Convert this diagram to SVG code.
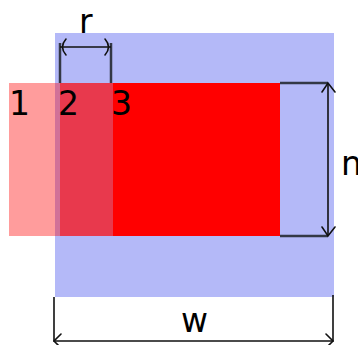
<svg xmlns="http://www.w3.org/2000/svg" width="358" height="345" viewBox="0 0 358 345">
<style>
text{font-family:"DejaVu Sans",sans-serif;font-size:33px;fill:#000}
.ext{stroke:#333845;stroke-width:2.5;fill:none}
.dim{stroke:#111;stroke-width:1.6;fill:none}
.ah{stroke:#111;stroke-width:1.6;fill:none;stroke-linecap:round}
</style>
<g id="blue"><rect x="55" y="33" width="279" height="264" fill="#b4b9f8"/></g>
<g id="red">
<rect x="9" y="83" width="51" height="153" fill="#ff0000" fill-opacity="0.39"/>
<rect x="60" y="83" width="53" height="153" fill="#ff0000" fill-opacity="0.69"/>
<rect x="113" y="83" width="167" height="153" fill="#ff0000"/>
</g>
<g id="labels">
<text x="9" y="115">1</text>
<text x="58" y="115">2</text>
<text x="111" y="115">3</text>
<text x="79" y="33">r</text>
<text x="181" y="332">w</text>
<text x="341" y="175">n</text>
</g>
<g id="connectors">
<path class="ext" d="M60,83V43M111,83V43"/>
<path class="dim" d="M60,47H111"/>
<path class="ah" d="M66,39Q59,47 66,55M105,39Q112,47 105,55"/>
<path class="ext" d="M280,83H328M280,236H328"/>
<path class="dim" d="M328,83V236"/>
<path class="ah" d="M322,92L328,83L335,92M322,227L328,236L335,227"/>
<path class="dim" d="M54,297V341H333V295"/>
<path class="ah" d="M61,334L54,341L61,348M326,334L333,341L326,348"/>
</g>
</svg>
